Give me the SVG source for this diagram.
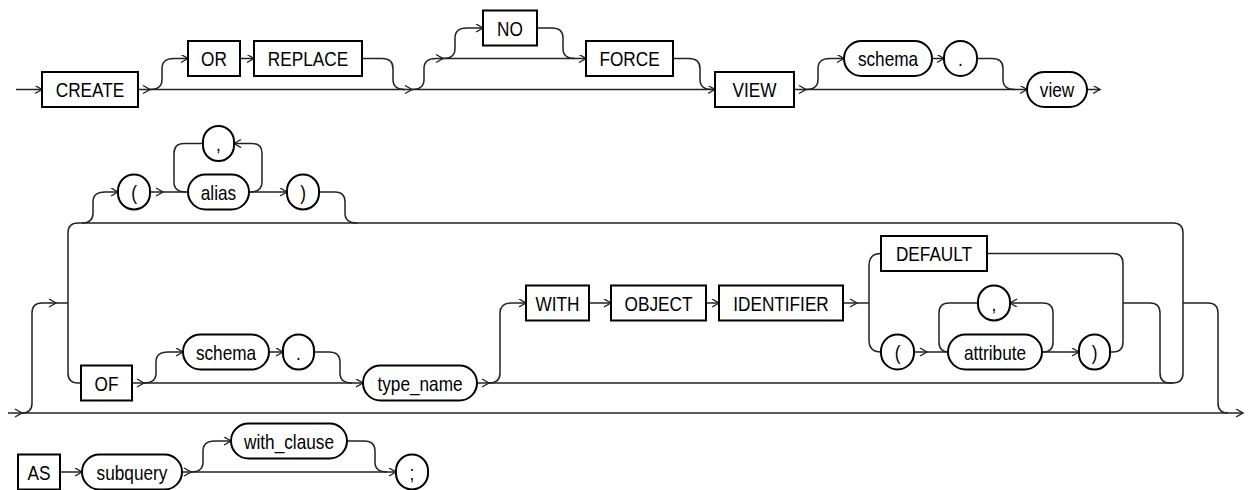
<svg xmlns="http://www.w3.org/2000/svg" width="1250" height="490" viewBox="0 0 1250 490">
<defs>
<style>
.bx{fill:#fff;stroke:#000;stroke-width:2}
.c{fill:none;stroke:#222;stroke-width:1.5}
.ch{fill:none;stroke:#222;stroke-width:1.4}
.t{font-family:"Liberation Sans",Arial,Helvetica,sans-serif;font-size:21px;fill:#000;text-anchor:middle}
</style>
<marker id="ar" markerWidth="10" markerHeight="10" refX="8" refY="4" orient="auto" markerUnits="userSpaceOnUse">
<path d="M1,0 L8,4 L1,8" fill="none" stroke="#222" stroke-width="1.4"/>
</marker>
</defs>
<rect width="1250" height="490" fill="#fff"/>
<g id="connectors">
<!-- row 1 -->
<path class="c" d="M16,89.5 H42" marker-end="url(#ar)"/>
<path class="c" d="M138,89.5 H715" marker-end="url(#ar)"/>
<path class="ch" d="M143,85.5 L150,89.5 L143,93.5"/>
<path class="c" d="M150,89.5 Q162,89.5 162,79.5 V68.5 Q162,58.5 174,58.5 H188" marker-end="url(#ar)"/>
<path class="c" d="M240,58.5 H254" marker-end="url(#ar)"/>
<path class="c" d="M362,58.5 H382 Q393,58.5 393,68.5 V79.5 Q393,89.5 405,89.5"/>
<path class="ch" d="M405,85.5 L412,89.5 L405,93.5"/>
<path class="c" d="M412,89.5 Q424,89.5 424,79.5 V68.5 Q424,58.5 436,58.5 H586" marker-end="url(#ar)"/>
<path class="ch" d="M436,54.5 L443,58.5 L436,62.5"/>
<path class="c" d="M443,58.5 Q455,58.5 455,48.5 V38 Q455,28 467,28 H483" marker-end="url(#ar)"/>
<path class="c" d="M537,28 H552 Q563,28 563,38 V48.5 Q563,58.5 575,58.5"/>
<path class="c" d="M673,58.5 H689 Q700,58.5 700,68.5 V79.5 Q700,89.5 712,89.5"/>
<path class="c" d="M794,89.5 H1027" marker-end="url(#ar)"/>
<path class="ch" d="M799,85.5 L806,89.5 L799,93.5"/>
<path class="c" d="M806,89.5 Q818,89.5 818,79.5 V68.5 Q818,58.5 830,58.5 H844" marker-end="url(#ar)"/>
<path class="c" d="M932,58.5 H944" marker-end="url(#ar)"/>
<path class="c" d="M977,58.5 H992 Q1003,58.5 1003,68.5 V79.5 Q1003,89.5 1015,89.5"/>
<path class="c" d="M1087,89.5 H1100" marker-end="url(#ar)"/>
<!-- row 2: bypass and frame -->
<path class="c" d="M8,413 H1243" marker-end="url(#ar)"/>
<path class="ch" d="M15,409 L22,413 L15,417"/>
<path class="c" d="M22,413 Q32,413 32,403 V313 Q32,303 42,303 H68"/>
<path class="ch" d="M49,299 L56,303 L49,307"/>
<path class="c" d="M81,383 H78 Q68,383 68,373 V233 Q68,223 78,223 H1173 Q1183,223 1183,233 V373 Q1183,383 1173,383 H1170"/>
<path class="c" d="M1183,303 H1208 Q1218,303 1218,313 V403 Q1218,413 1228,413"/>
<!-- ( alias ) -->
<path class="c" d="M82,223 Q93,223 93,213 V202 Q93,192 105,192 H118" marker-end="url(#ar)"/>
<path class="c" d="M150,192 H188"/>
<path class="ch" d="M156,188 L163,192 L156,196"/>
<path class="c" d="M203,143.5 H184 Q174,143.5 174,153.5 V182 Q174,192 186,192"/>
<path class="c" d="M249,192 H287" marker-end="url(#ar)"/>
<path class="c" d="M250,192 Q262,192 262,182 V153.5 Q262,143.5 252,143.5 H234" marker-end="url(#ar)"/>
<path class="c" d="M319,192 H335 Q345,192 345,202 V213 Q345,223 357,223"/>
<!-- OF row -->
<path class="c" d="M132,383 H363" marker-end="url(#ar)"/>
<path class="ch" d="M137,379 L144,383 L137,387"/>
<path class="c" d="M144,383 Q156,383 156,373 V362 Q156,352 168,352 H183" marker-end="url(#ar)"/>
<path class="c" d="M269,352 H283" marker-end="url(#ar)"/>
<path class="c" d="M314,352 H329 Q340,352 340,362 V373 Q340,383 352,383"/>
<path class="c" d="M477,383 H1173"/>
<path class="ch" d="M482,379 L489,383 L482,387"/>
<path class="c" d="M489,383 Q500,383 500,373 V313 Q500,303 512,303 H526" marker-end="url(#ar)"/>
<path class="c" d="M589,303 H611" marker-end="url(#ar)"/>
<path class="c" d="M706,303 H719" marker-end="url(#ar)"/>
<path class="c" d="M843,303 H869"/>
<path class="ch" d="M850,299 L857,303 L850,307"/>
<path class="c" d="M881,253.5 Q869,253.5 869,265.5 V340 Q869,352 881,352"/>
<path class="c" d="M914,352 H948"/>
<path class="ch" d="M920,348 L927,352 L920,356"/>
<path class="c" d="M978,303 H949 Q939,303 939,313 V342 Q939,352 949,352"/>
<path class="c" d="M1042,352 H1079" marker-end="url(#ar)"/>
<path class="c" d="M1043,352 Q1053,352 1053,342 V313 Q1053,303 1043,303 H1010" marker-end="url(#ar)"/>
<path class="c" d="M987,253.5 H1113 Q1123,253.5 1123,263.5 V342 Q1123,352 1113,352 H1110"/>
<path class="c" d="M1123,303 H1150 Q1160,303 1160,313 V373 Q1160,383 1170,383"/>
<!-- row 3 -->
<path class="c" d="M60,472 H82" marker-end="url(#ar)"/>
<path class="c" d="M182,472 H396" marker-end="url(#ar)"/>
<path class="ch" d="M184,468 L191,472 L184,476"/>
<path class="c" d="M191,472 Q203,472 203,462 V451 Q203,441 215,441 H231" marker-end="url(#ar)"/>
<path class="c" d="M347,441 H364 Q375,441 375,451 V462 Q375,472 387,472"/>
</g>
<!-- row 1 nodes -->
<g id="n-create"><rect class="bx" x="42" y="72" width="96" height="35"/><text class="t" transform="translate(90,97) scale(0.82,1)">CREATE</text></g>
<g id="n-or"><rect class="bx" x="188" y="41" width="52" height="35"/><text class="t" transform="translate(214,66) scale(0.82,1)">OR</text></g>
<g id="n-replace"><rect class="bx" x="254" y="41" width="108" height="35"/><text class="t" transform="translate(308,66) scale(0.82,1)">REPLACE</text></g>
<g id="n-no"><rect class="bx" x="483" y="10.5" width="54" height="35"/><text class="t" transform="translate(510,35.5) scale(0.82,1)">NO</text></g>
<g id="n-force"><rect class="bx" x="586" y="41" width="87" height="35"/><text class="t" transform="translate(629.5,66) scale(0.82,1)">FORCE</text></g>
<g id="n-view-kw"><rect class="bx" x="715" y="72" width="79" height="35"/><text class="t" transform="translate(754.5,97) scale(0.82,1)">VIEW</text></g>
<g id="n-schema1"><rect class="bx" x="844" y="41" width="88" height="35" rx="17.5"/><text class="t" transform="translate(888,66) scale(0.82,1)">schema</text></g>
<g id="n-dot1"><rect class="bx" x="944" y="41" width="33" height="35" rx="16.5"/><text class="t" transform="translate(960.5,66) scale(0.82,1)">.</text></g>
<g id="n-view"><rect class="bx" x="1027" y="72" width="60" height="35" rx="17.5"/><text class="t" transform="translate(1057,97) scale(0.82,1)">view</text></g>
<!-- row 2 nodes -->
<g id="n-lpar1"><rect class="bx" x="118" y="174.5" width="32" height="35" rx="16"/><text class="t" transform="translate(134,199.5) scale(0.82,1)">(</text></g>
<g id="n-comma1"><rect class="bx" x="203" y="126" width="31" height="35" rx="15.5"/><text class="t" transform="translate(218.5,151) scale(0.82,1)">,</text></g>
<g id="n-alias"><rect class="bx" x="188" y="174.5" width="61" height="35" rx="17.5"/><text class="t" transform="translate(218.5,199.5) scale(0.82,1)">alias</text></g>
<g id="n-rpar1"><rect class="bx" x="287" y="174.5" width="32" height="35" rx="16"/><text class="t" transform="translate(303,199.5) scale(0.82,1)">)</text></g>
<g id="n-of"><rect class="bx" x="81" y="365.5" width="51" height="35"/><text class="t" transform="translate(106.5,390.5) scale(0.82,1)">OF</text></g>
<g id="n-schema2"><rect class="bx" x="183" y="334.5" width="86" height="35" rx="17.5"/><text class="t" transform="translate(226,359.5) scale(0.82,1)">schema</text></g>
<g id="n-dot2"><rect class="bx" x="283" y="334.5" width="31" height="35" rx="15.5"/><text class="t" transform="translate(298.5,359.5) scale(0.82,1)">.</text></g>
<g id="n-type-name"><rect class="bx" x="363" y="365.5" width="114" height="35" rx="17.5"/><text class="t" transform="translate(420,390.5) scale(0.82,1)">type_name</text></g>
<g id="n-with"><rect class="bx" x="526" y="285.5" width="63" height="35"/><text class="t" transform="translate(557.5,310.5) scale(0.82,1)">WITH</text></g>
<g id="n-object"><rect class="bx" x="611" y="285.5" width="95" height="35"/><text class="t" transform="translate(658.5,310.5) scale(0.82,1)">OBJECT</text></g>
<g id="n-identifier"><rect class="bx" x="719" y="285.5" width="124" height="35"/><text class="t" transform="translate(781,310.5) scale(0.82,1)">IDENTIFIER</text></g>
<g id="n-default"><rect class="bx" x="881" y="236" width="106" height="35"/><text class="t" transform="translate(934,261) scale(0.82,1)">DEFAULT</text></g>
<g id="n-lpar2"><rect class="bx" x="881" y="334.5" width="33" height="35" rx="16.5"/><text class="t" transform="translate(897.5,359.5) scale(0.82,1)">(</text></g>
<g id="n-comma2"><rect class="bx" x="978" y="285.5" width="32" height="35" rx="16"/><text class="t" transform="translate(994,310.5) scale(0.82,1)">,</text></g>
<g id="n-attribute"><rect class="bx" x="948" y="334.5" width="94" height="35" rx="17.5"/><text class="t" transform="translate(995,359.5) scale(0.82,1)">attribute</text></g>
<g id="n-rpar2"><rect class="bx" x="1079" y="334.5" width="31" height="35" rx="15.5"/><text class="t" transform="translate(1094.5,359.5) scale(0.82,1)">)</text></g>
<!-- row 3 nodes -->
<g id="n-as"><rect class="bx" x="18" y="454.5" width="42" height="35"/><text class="t" transform="translate(39,479.5) scale(0.82,1)">AS</text></g>
<g id="n-subquery"><rect class="bx" x="82" y="454.5" width="100" height="35" rx="17.5"/><text class="t" transform="translate(132,479.5) scale(0.82,1)">subquery</text></g>
<g id="n-with-clause"><rect class="bx" x="231" y="423.5" width="116" height="35" rx="17.5"/><text class="t" transform="translate(289,448.5) scale(0.82,1)">with_clause</text></g>
<g id="n-semi"><rect class="bx" x="396" y="454.5" width="32" height="35" rx="16"/><text class="t" transform="translate(412,479.5) scale(0.82,1)">;</text></g>
</svg>
